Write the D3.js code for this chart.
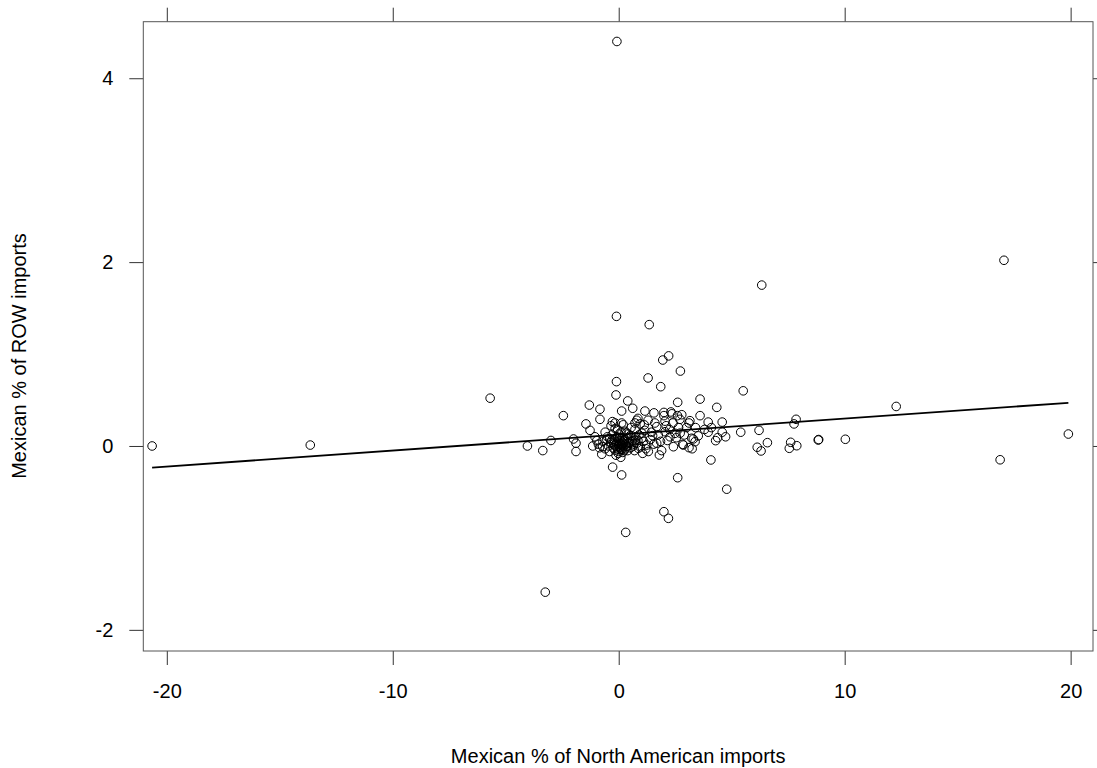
<!DOCTYPE html>
<html>
<head>
<meta charset="utf-8">
<title>Mexican import shares</title>
<script src="https://d3js.org/d3.v7.min.js"></script>
<style>
body { margin: 0; background: #fff; }
svg { display: block; font-family: 'Liberation Sans', Arial, sans-serif; }
.tick line { stroke: #333; }
.tick text { fill: #000; font-size: 20px; }
</style>
</head>
<body>
<svg id="chart" width="1097" height="768"></svg>
<script type="text/javascript">
// sizes
var width = 1097;
var height = 768;

// data: Mexican % of North American imports (x) vs Mexican % of ROW imports (y)
var naImports = [
	-20.65, -13.65, -5.69, -4.04, -3.36, -3.00, -3.25, -2.45, -2.00, -1.89,
	-1.89, -1.45, -1.30, -1.27, -1.15, -0.97, -0.83, -0.83, -0.75, -0.71,
	-0.53, -0.34, -0.28, -0.27, -0.16, -0.16, -0.16, -0.12, -0.10, -0.10,
	-0.08, -0.02, 0.06, 0.09, 0.13, 0.13, 0.13, 0.20, 0.31, 0.35,
	0.40, 0.58, 0.62, 0.72, 0.72, 0.72, 0.80, 0.85, 0.87, 1.02,
	1.02, 1.06, 1.13, 1.16, 1.24, 1.30, 1.31, 1.35, 1.50, 1.56,
	1.68, 1.68, 1.80, 1.86, 1.90, 1.95, 2.00, 2.00, 2.00, 2.05,
	2.05, 2.20, 2.21, 2.27, 2.31, 2.35, 2.42, 2.49, 2.60, 2.61,
	2.61, 2.71, 2.72, 2.73, 2.79, 2.83, 2.86, 3.11, 3.11, 3.15,
	3.23, 3.25, 3.30, 3.38, 3.52, 3.60, 3.60, 3.96, 3.96, 4.08,
	4.29, 4.34, 4.38, 4.58, 4.58, 4.73, 4.78, 5.40, 5.51, 6.13,
	6.21, 6.30, 6.33, 6.58, 7.55, 7.61, 7.76, 7.85, 7.88, 8.83,
	8.85, 10.03, 12.28, 16.88, 17.05, 19.90,
	// dense core
	-0.90, -0.70, -0.60, -0.50, -0.45, -0.40, -0.35, -0.30, -0.25, -0.20,
	-0.15, -0.12, -0.10, -0.08, -0.05, -0.03, 0.00, 0.00, 0.02, 0.04,
	0.05, 0.08, 0.10, 0.12, 0.15, 0.18, 0.20, 0.22, 0.25, 0.28,
	0.30, 0.32, 0.38, 0.40, 0.45, 0.50, 0.52, 0.60, 0.65, 0.70,
	0.75, 0.80, 0.90, 0.95, 1.10, 1.15, 1.20, 1.40, 1.45, 1.55,
	1.60, 1.75, 1.85, 2.10, 2.15, 2.25, 2.40, 2.55, 2.65, 2.90,
	3.00, 3.40, 3.80, 4.10, -0.60, -1.05, -0.85, 0.55, 0.35, -0.05,
	0.95, 1.30, -0.30, -0.18, -0.06, 0.06, 0.16, 0.26, 0.36, 0.46,
	0.14, 0.03, -0.22, 0.42, 0.68, 0.24, 0.10, -0.40, 0.58, 0.85
];
var rowImports = [
	0.00, 0.01, 0.52, 0.00, -0.05, 0.06, -1.59, 0.33, 0.076, 0.03,
	-0.06, 0.24, 0.445, 0.17, 0.00, 0.058, 0.40, 0.29, -0.09, -0.008,
	0.073, 0.22, 0.265, -0.23, 0.19, -0.044, 0.25, 0.555, 0.70, 1.41,
	4.40, -0.08, 0.03, -0.123, 0.38, 0.25, -0.315, 0.23, -0.94, -0.008,
	0.49, 0.047, 0.41, 0.25, 0.18, 0.065, 0.28, 0.30, -0.025, 0.084,
	0.14, -0.08, 0.23, 0.38, 0.01, 0.74, -0.06, 1.32, 0.112, 0.36,
	0.21, 0.03, -0.098, 0.645, -0.05, 0.935, 0.33, 0.365, -0.715, 0.27,
	0.155, -0.787, 0.98, 0.10, 0.37, 0.35, -0.008, 0.138, 0.33, 0.475,
	-0.345, 0.29, 0.14, 0.815, 0.34, 0.018, 0.01, 0.25, -0.018, 0.275,
	0.084, -0.03, 0.076, 0.047, 0.11, 0.33, 0.51, 0.26, 0.15, -0.152,
	0.058, 0.42, 0.09, 0.26, 0.15, 0.10, -0.47, 0.15, 0.60, -0.014,
	0.17, -0.054, 1.75, 0.036, -0.025, 0.04, 0.24, 0.29, 0.003, 0.065,
	0.07, 0.073, 0.43, -0.15, 2.02, 0.13,
	// dense core
	0.02, 0.05, -0.03, 0.10, 0.00, -0.06, 0.04, 0.12, -0.02, 0.07,
	0.00, -0.10, 0.03, 0.10, -0.03, 0.05, 0.00, -0.06, 0.13, 0.02,
	-0.02, 0.06, -0.04, 0.01, 0.09, -0.07, 0.03, -0.01, 0.05, 0.16,
	-0.03, 0.02, 0.08, -0.05, 0.03, 0.11, -0.02, 0.06, 0.00, -0.05,
	0.10, 0.03, 0.12, -0.01, 0.05, 0.17, -0.03, 0.07, 0.15, 0.02,
	0.25, 0.12, 0.05, 0.22, 0.06, 0.18, 0.25, 0.09, 0.20, 0.12,
	0.20, 0.20, 0.18, 0.20, 0.15, 0.10, -0.02, 0.20, 0.14, 0.18,
	0.24, 0.28, 0.06, 0.01, 0.08, -0.01, 0.04, 0.07, 0.00, 0.04,
	-0.04, 0.09, 0.02, 0.13, 0.02, -0.05, 0.15, 0.08, 0.11, 0.06
];

// fitted regression line, read at its two ends
var fitX = [-20.65, 19.90];
var fitY = [-0.235, 0.47];

// tick labels
var xTicks = [-20, -10, 0, 10, 20];
var yTicks = [-2, 0, 2, 4];

var points = naImports.map(function(d, i){ return {x: d, y: rowImports[i]}; });

// panel box
var boxLeft = 143.3, boxRight = 1093, boxTop = 21.7, boxBottom = 651;

var xScale = d3.scaleLinear().domain([-21.04, 20.99]).range([boxLeft, boxRight]);
var yScale = d3.scaleLinear().domain([-2.23, 4.615]).range([boxBottom, boxTop]);

var plain = function(d){ return String(d); }; // hyphen minus like the original

var svg = d3.select("#chart");

// axes on all four sides, labels only bottom and left
svg.append("g").attr("transform", "translate(0," + boxBottom + ")")
	.call(d3.axisBottom(xScale).tickValues(xTicks).tickSize(14).tickPadding(19).tickFormat(plain));
svg.append("g").attr("transform", "translate(0," + boxTop + ")")
	.call(d3.axisTop(xScale).tickValues(xTicks).tickSize(14).tickFormat(""));
svg.append("g").attr("transform", "translate(" + boxLeft + ",0)")
	.call(d3.axisLeft(yScale).tickValues(yTicks).tickSize(14).tickPadding(16).tickFormat(plain));
svg.append("g").attr("transform", "translate(" + boxRight + ",0)")
	.call(d3.axisRight(yScale).tickValues(yTicks).tickSize(14).tickFormat(""));
svg.selectAll(".domain").remove();
svg.selectAll(".tick text").attr("font-family", null).attr("font-size", null);

// frame
svg.append("rect")
	.attr("x", boxLeft).attr("y", boxTop)
	.attr("width", boxRight - boxLeft).attr("height", boxBottom - boxTop)
	.attr("fill", "none").attr("stroke", "#555").attr("stroke-width", 1);

// points
svg.append("g").selectAll("circle").data(points).enter().append("circle")
	.attr("cx", function(d){ return xScale(d.x); })
	.attr("cy", function(d){ return yScale(d.y); })
	.attr("r", 4.3)
	.attr("fill", "none")
	.attr("stroke", "#000")
	.attr("stroke-width", 1);

// regression line
svg.append("line")
	.attr("x1", xScale(fitX[0])).attr("y1", yScale(fitY[0]))
	.attr("x2", xScale(fitX[1])).attr("y2", yScale(fitY[1]))
	.attr("stroke", "#000").attr("stroke-width", 1.8);

// axis titles
svg.append("text")
	.attr("x", (boxLeft + boxRight) / 2).attr("y", 763)
	.attr("text-anchor", "middle").attr("font-size", 20)
	.text("Mexican % of North American imports");
svg.append("text")
	.attr("transform", "translate(26,356) rotate(-90)")
	.attr("text-anchor", "middle").attr("font-size", 20)
	.text("Mexican % of ROW imports");
</script>
</body>
</html>
